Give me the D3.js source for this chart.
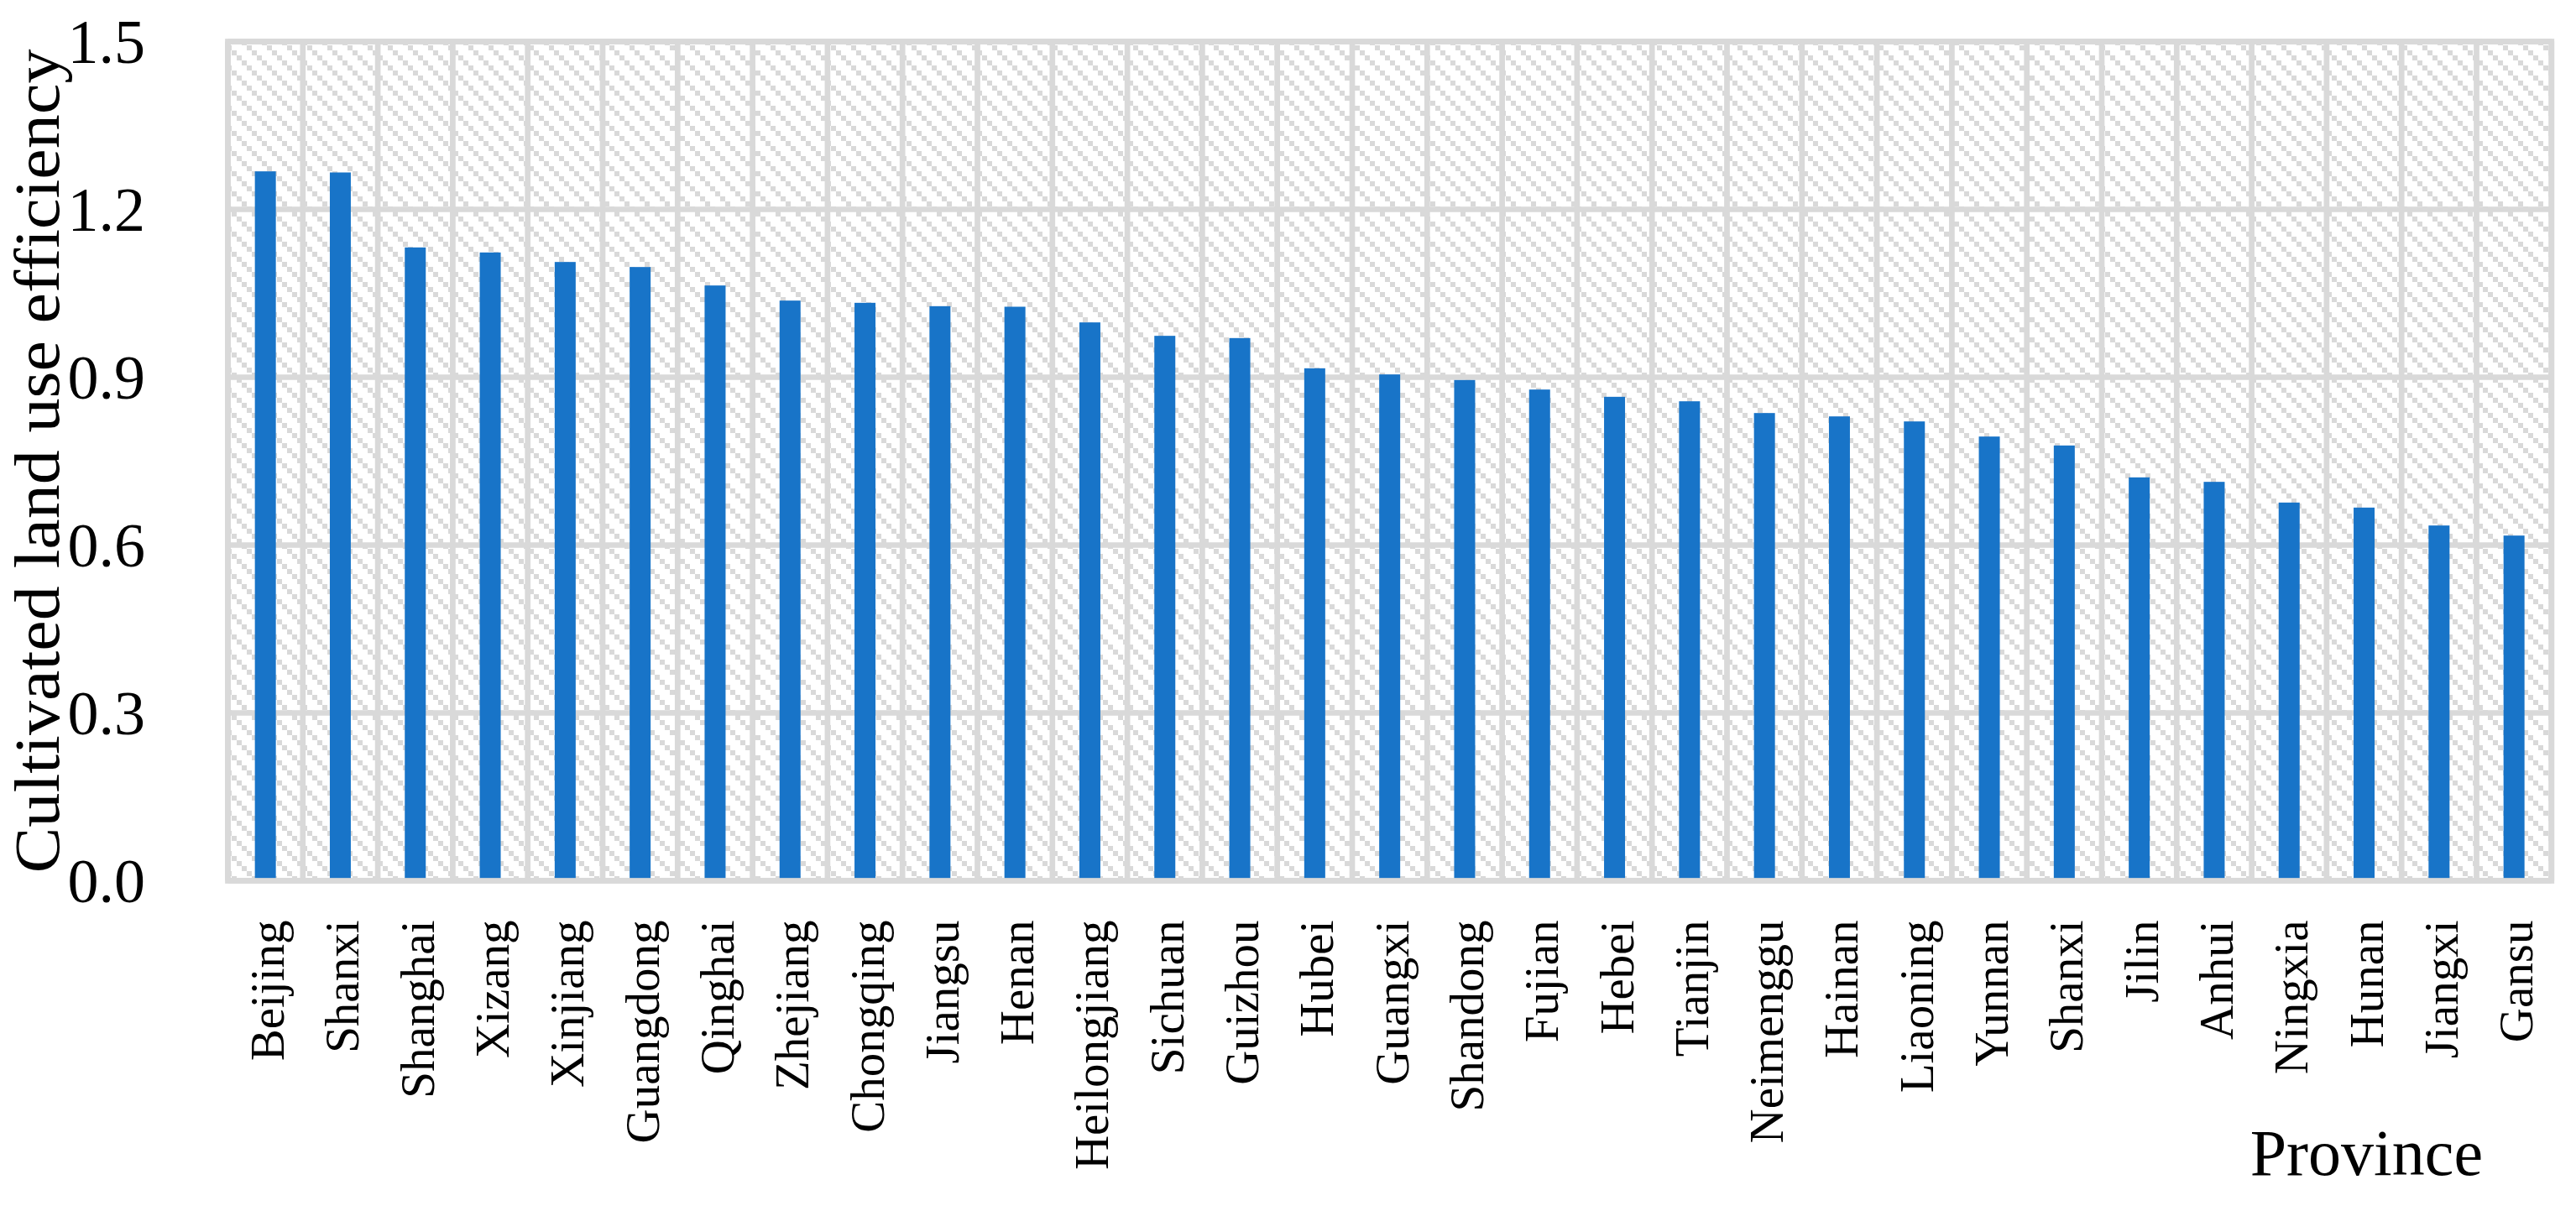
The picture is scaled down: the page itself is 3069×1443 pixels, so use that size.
<!DOCTYPE html>
<html>
<head>
<meta charset="utf-8">
<script src="https://cdn.jsdelivr.net/npm/d3@7"></script>
<style>
  html, body { margin: 0; padding: 0; background: #ffffff; }
  svg { display: block; }
</style>
</head>
<body>
<svg id="chart" width="3069" height="1443"></svg>
<script>
// ---- data ----
const categories = ["Beijing","Shanxi","Shanghai","Xizang","Xinjiang","Guangdong","Qinghai","Zhejiang","Chongqing","Jiangsu","Henan","Heilongjiang","Sichuan","Guizhou","Hubei","Guangxi","Shandong","Fujian","Hebei","Tianjin","Neimenggu","Hainan","Liaoning","Yunnan","Shanxi","Jilin","Anhui","Ningxia","Hunan","Jiangxi","Gansu"];
const values = [1.268,1.266,1.132,1.123,1.106,1.097,1.064,1.037,1.033,1.027,1.026,0.998,0.974,0.970,0.916,0.905,0.895,0.878,0.865,0.857,0.836,0.830,0.821,0.794,0.778,0.721,0.713,0.676,0.667,0.635,0.617];
const yTicks = [0, 0.3, 0.6, 0.9, 1.2, 1.5];
const yTitle = "Cultivated land use efficiency";
const xTitle = "Province";

// ---- layout ----
const W = 3069, H = 1443;
const plot = { left: 271.5, right: 3039.8, top: 49.5, bottom: 1049.5 };
const gridColor = "#d9d9d9";
const barColor = "#1874c8";
const font = "'Liberation Serif', 'Times New Roman', serif";

const svg = d3.select("#chart");

const x = d3.scaleBand()
  .domain(d3.range(categories.length))
  .range([plot.left, plot.right])
  .paddingInner(0).paddingOuter(0);
const barW = x.bandwidth() * 0.28;

const y = d3.scaleLinear().domain([0, 1.5]).range([plot.bottom, plot.top]);

// hatch pattern
const defs = svg.append("defs");
const cell = 6;
const pat = defs.append("pattern")
  .attr("id", "hatch")
  .attr("patternUnits", "userSpaceOnUse")
  .attr("width", cell * 4).attr("height", cell * 4);
pat.append("rect").attr("width", cell * 4).attr("height", cell * 4).attr("fill", "#ffffff");
d3.range(4).forEach(i => {
  pat.append("rect")
    .attr("x", i * cell).attr("y", i * cell)
    .attr("width", cell).attr("height", cell)
    .attr("fill", gridColor)
    .attr("shape-rendering", "crispEdges");
});

// plot background
svg.append("rect")
  .attr("x", plot.left).attr("y", plot.top)
  .attr("width", plot.right - plot.left).attr("height", plot.bottom - plot.top)
  .attr("fill", "url(#hatch)");

// vertical grid lines (category boundaries)
const vlines = d3.range(categories.length + 1).map(i => i < categories.length ? x(i) : plot.right);
svg.append("g").selectAll("line").data(vlines).join("line")
  .attr("x1", d => d).attr("x2", d => d)
  .attr("y1", plot.top).attr("y2", plot.bottom)
  .attr("stroke", gridColor).attr("stroke-width", 6.7);

// horizontal grid lines
svg.append("g").selectAll("line").data(yTicks).join("line")
  .attr("x1", plot.left).attr("x2", plot.right)
  .attr("y1", d => y(d)).attr("y2", d => y(d))
  .attr("stroke", gridColor).attr("stroke-width", 6.7);

// bars
svg.append("g").selectAll("rect").data(values).join("rect")
  .attr("x", (d, i) => x(i) + x.bandwidth() / 2 - barW / 2)
  .attr("width", barW)
  .attr("y", d => y(d))
  .attr("height", d => y(0) - y(d))
  .attr("fill", barColor);

// frame
svg.append("rect")
  .attr("x", plot.left).attr("y", plot.top)
  .attr("width", plot.right - plot.left).attr("height", plot.bottom - plot.top)
  .attr("fill", "none").attr("stroke", gridColor).attr("stroke-width", 6.7);

// y axis labels
const yAxis = d3.axisLeft(y).tickValues(yTicks).tickFormat(d3.format(".1f")).tickSize(0).tickPadding(0);
const gy = svg.append("g").attr("transform", `translate(173,0)`).call(yAxis);
gy.select(".domain").remove();
gy.selectAll("text")
  .attr("font-family", font).attr("font-size", 74).attr("fill", "#000")
  .attr("dy", "0.34em");

// x axis labels
const xAxis = d3.axisBottom(x).tickFormat(i => categories[i]).tickSize(0).tickPadding(0);
const gx = svg.append("g").attr("transform", `translate(0,${plot.bottom})`).call(xAxis);
gx.select(".domain").remove();
gx.selectAll("text")
  .attr("font-family", font).attr("font-size", 57).attr("fill", "#000")
  .attr("text-anchor", "end")
  .attr("transform", "translate(22,47) rotate(-90)")
  .attr("x", 0).attr("y", 0).attr("dy", 0);

// y title
svg.append("text")
  .attr("transform", `translate(70,${(plot.top + plot.bottom) / 2}) rotate(-90)`)
  .attr("text-anchor", "middle")
  .attr("font-family", font).attr("font-size", 76).attr("fill", "#000")
  .attr("textLength", 982).attr("lengthAdjust", "spacingAndGlyphs")
  .text(yTitle);

// x title
svg.append("text")
  .attr("x", 2958).attr("y", 1400)
  .attr("text-anchor", "end")
  .attr("font-family", font).attr("font-size", 78).attr("fill", "#000")
  .text(xTitle);
</script>
</body>
</html>
